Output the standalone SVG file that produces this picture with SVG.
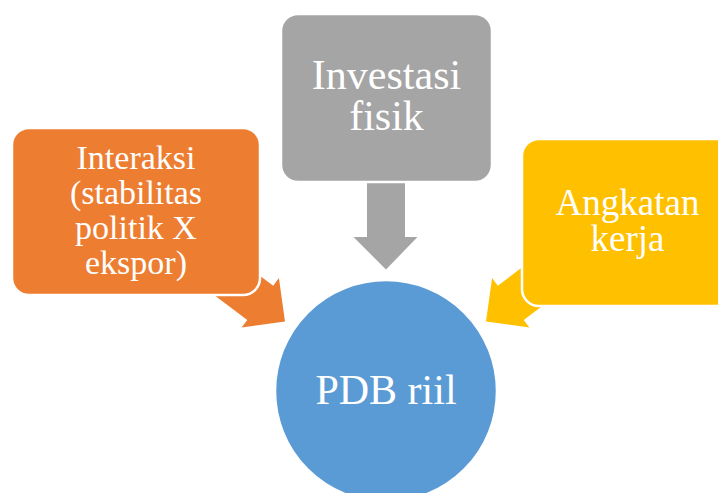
<svg xmlns="http://www.w3.org/2000/svg" width="718" height="493" viewBox="0 0 718 493">
<style>
.box{stroke:#ffffff;stroke-width:2.5}
.t{font-family:"Liberation Serif","Times New Roman",serif;fill:#ffffff;text-anchor:middle}
</style>
<rect width="718" height="493" fill="#ffffff"/>
<g id="connectors">
<polygon fill="#ED7D31" transform="translate(285,321.5) rotate(37)" points="0,0 -31,-31 -31,-21.5 -110,-21.5 -110,21.5 -31,21.5 -31,31"/>
<polygon fill="#FFC000" transform="translate(486,321.5) rotate(143)" points="0,0 -31,-31 -31,-21.5 -110,-21.5 -110,21.5 -31,21.5 -31,31"/>
<polygon fill="#A5A5A5" points="367,170 405,170 405,237 417.5,237 386,269.5 353.5,237 367,237"/>
</g>
<g id="node-investasi">
<rect class="box" x="281" y="14" width="211" height="168" rx="17" fill="#A5A5A5"/>
<text class="t" font-size="42"><tspan x="386.5" y="89">Investasi</tspan><tspan x="386.5" y="130">fisik</tspan></text>
</g>
<g id="node-interaksi">
<rect class="box" x="12" y="128" width="248" height="167" rx="17" fill="#ED7D31"/>
<text class="t" font-size="34"><tspan x="136" y="169">Interaksi</tspan><tspan x="136" y="204">(stabilitas</tspan><tspan x="136" y="239">politik X</tspan><tspan x="136" y="274">ekspor)</tspan></text>
</g>
<g id="node-angkatan">
<rect class="box" x="522" y="139" width="211" height="167" rx="17" fill="#FFC000"/>
<text class="t" font-size="37"><tspan x="627.5" y="215">Angkatan</tspan><tspan x="627.5" y="251">kerja</tspan></text>
</g>
<g id="node-pdb">
<circle cx="386" cy="391" r="110.5" fill="#5B9BD5" stroke="#ffffff" stroke-width="1.5"/>
<text class="t" font-size="42" x="386" y="404">PDB riil</text>
</g>
</svg>
